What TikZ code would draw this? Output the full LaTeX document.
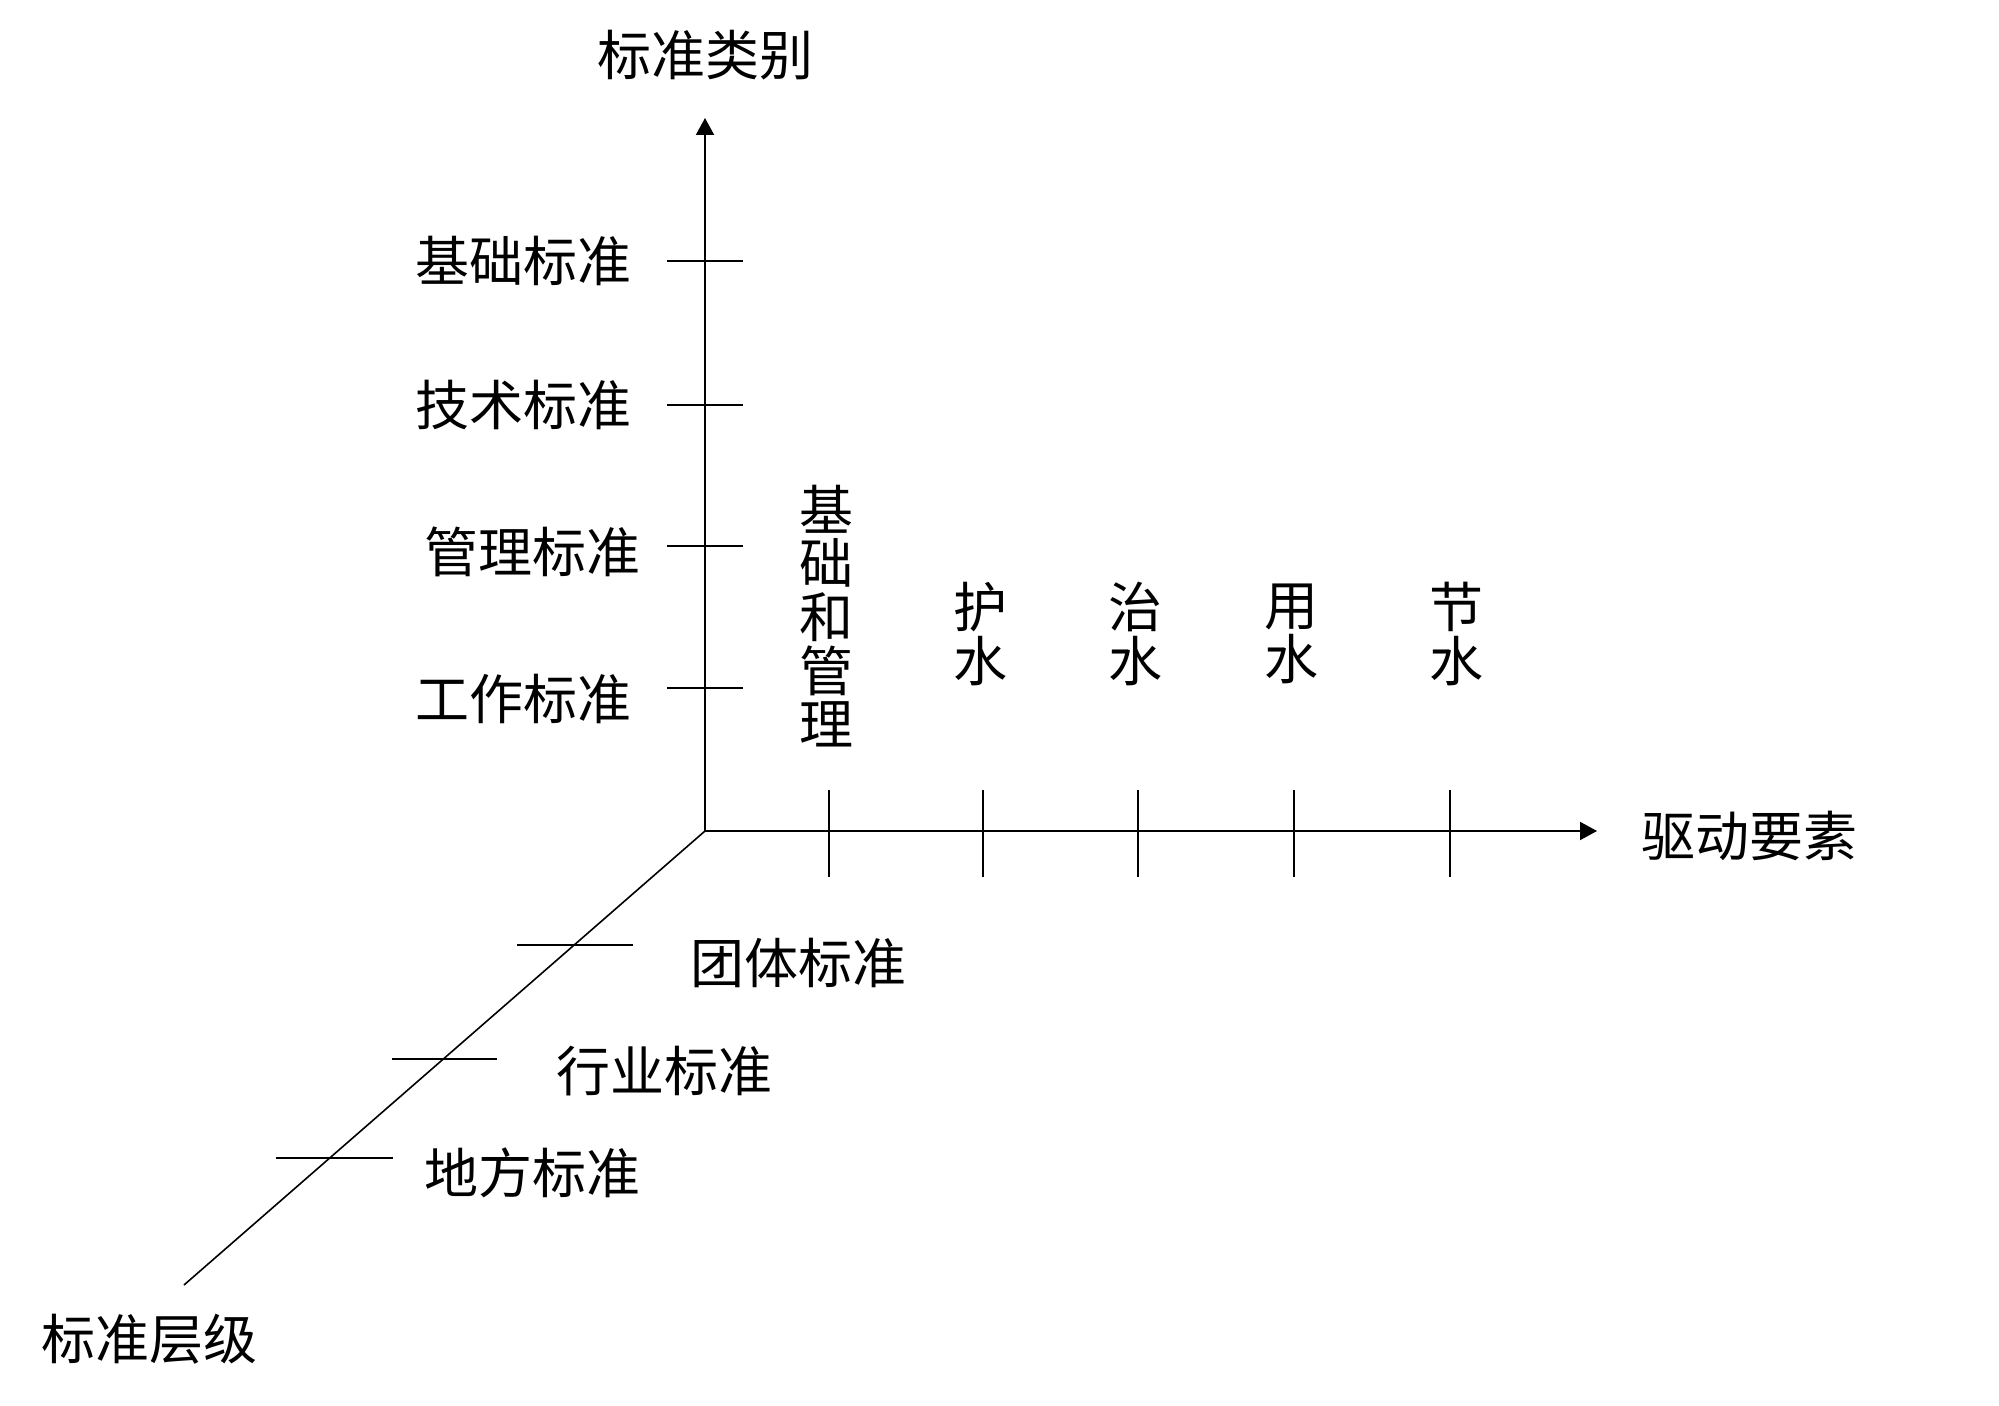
\documentclass[tikz,border=0pt]{standalone}
\usepackage{fontspec}
\setmainfont{Noto Sans CJK SC}
\usetikzlibrary{arrows.meta}
\begin{document}
\begin{tikzpicture}[x=0.5pt,y=-0.5pt,
  axis/.style={line width=1pt,-{Triangle[length=8.5pt,width=9pt]}},
  diag/.style={line width=0.8pt},
  tickmark/.style={line width=1pt},
  lab/.style={inner sep=0pt,font=\fontsize{27}{26.8}\selectfont},
  vlab/.style={lab,align=center}]
\useasboundingbox (0,0) rectangle (1999,1406);
% axes
\coordinate (O) at (705,831);
\coordinate (Ytop) at (705,118);
\coordinate (Xend) at (1597,831);
\coordinate (Zend) at (184,1285);
\draw[axis] (O) -- (Ytop);
\draw[axis] (O) -- (Xend);
\draw[diag] (O) -- (Zend);
% ticks on vertical axis
\foreach \y in {261,405,546,688} \draw[tickmark] (667,\y) -- (743,\y);
% ticks on horizontal axis
\foreach \x in {829,983,1138,1294,1450} \draw[tickmark] (\x,790) -- (\x,877);
% ticks on diagonal axis
\draw[diag] (517,945) -- (633,945);
\draw[diag] (392,1059) -- (497,1059);
\draw[diag] (276,1158) -- (393,1158);
% labels
\node[lab] (ycap) at (705,55) {标准类别};
\node[lab,anchor=east] (y1) at (632,261) {基础标准};
\node[lab,anchor=east] (y2) at (632,405) {技术标准};
\node[lab,anchor=east] (y3) at (641,552) {管理标准};
\node[lab,anchor=east] (y4) at (632,699) {工作标准};
\node[vlab] (x1) at (826,616) {基\\础\\和\\管\\理};
\node[vlab] (x2) at (980,634) {护\\水};
\node[vlab] (x3) at (1135,634) {治\\水};
\node[vlab] (x4) at (1291,634) {用\\水};
\node[vlab] (x5) at (1456,634) {节\\水};
\node[lab,anchor=west] (xcap) at (1641,836) {驱动要素};
\node[lab,anchor=west] (z1) at (690,963) {团体标准};
\node[lab,anchor=west] (z2) at (556,1071) {行业标准};
\node[lab,anchor=west] (z3) at (424,1173) {地方标准};
\node[lab,anchor=west] (zcap) at (41,1339) {标准层级};
\end{tikzpicture}
\end{document}
